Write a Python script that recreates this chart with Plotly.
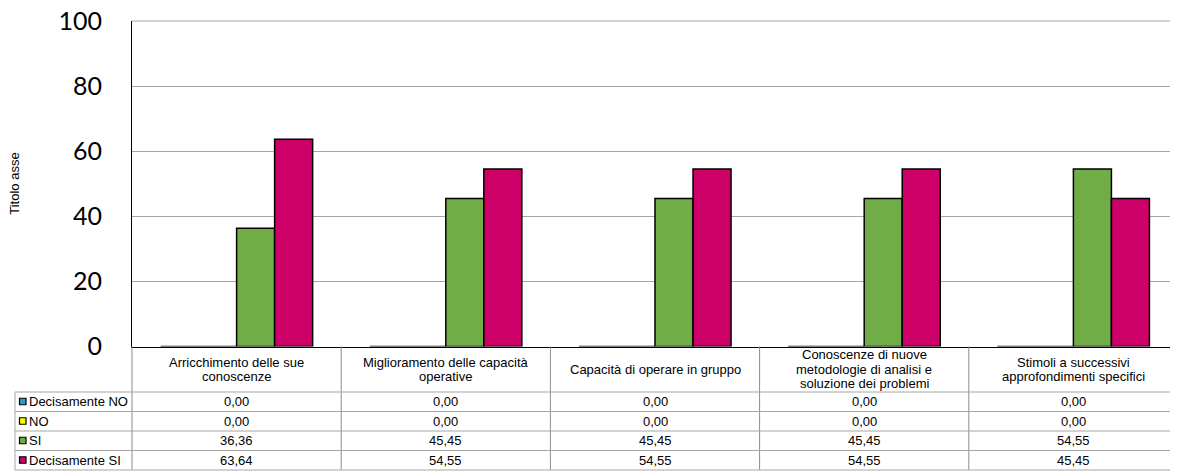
import plotly.graph_objects as go

categories = [
    "Arricchimento delle sue<br>conoscenze",
    "Miglioramento delle capacità<br>operative",
    "Capacità di operare in gruppo",
    "Conoscenze di nuove<br>metodologie di analisi e<br>soluzione dei problemi",
    "Stimoli a successivi<br>approfondimenti specifici",
]
series_names = ["Decisamente NO", "NO", "SI", "Decisamente SI"]
decisamente_no = [0.00, 0.00, 0.00, 0.00, 0.00]
no_vals = [0.00, 0.00, 0.00, 0.00, 0.00]
si_vals = [36.36, 45.45, 45.45, 45.45, 54.55]
decisamente_si = [63.64, 54.55, 54.55, 54.55, 45.45]
series_values = [decisamente_no, no_vals, si_vals, decisamente_si]
series_colors = ["#2E9BCB", "#FFFF00", "#70AD47", "#CC0066"]
y_ticks = [0, 20, 40, 60, 80, 100]

# page body has an 8px margin: work in window pixels and offset
OX, OY = 8, 8
W, H = 1178 - OX, 473 - OY
PL, PR = 132, 1178      # plot area x (window px)
PT, PB = 21, 346.5      # plot area y (window px)
ROW_TOP = 392
ROW_H = 19.5
LEG_L = 15

def px(x):
    return (x - OX) / W

def py(y):
    return 1 - (y - OY) / H

fig = go.Figure()
for name, vals, col in zip(series_names, series_values, series_colors):
    fig.add_trace(go.Bar(
        x=categories, y=vals, name=name,
        marker=dict(color=col, line=dict(color="#000000", width=1.5)),
        showlegend=False,
    ))

ncat = len(categories)
colw = (PR - PL) / ncat
shapes = []
annotations = []

def line(x0, y0, x1, y1, color, width=1, layer="above"):
    shapes.append(dict(type="line", xref="paper", yref="paper", layer=layer,
                       x0=px(x0), y0=py(y0), x1=px(x1), y1=py(y1),
                       line=dict(color=color, width=width)))

# top gridline (at 100)
line(PL, PT, PR, PT, "#A6A6A6", layer="below")
# header row + table verticals
for i in range(ncat + 1):
    xx = PL + i * colw
    if xx < 1177.5:
        line(xx, PB, xx, ROW_TOP + 4 * ROW_H, "#8C8C8C")
# table horizontals
for r in range(5):
    yy = ROW_TOP + r * ROW_H
    line(LEG_L, yy, PR, yy, "#A6A6A6")
line(LEG_L, ROW_TOP, LEG_L, ROW_TOP + 4 * ROW_H, "#A6A6A6")

TFONT = dict(family="Liberation Sans, Arial", size=13, color="#000000")

# header labels
for i, cat in enumerate(categories):
    lines_ = cat.split("<br>")
    n = len(lines_)
    cy = (PB + ROW_TOP) / 2
    lh = 14.5
    for k, t in enumerate(lines_):
        yy = cy + (k - (n - 1) / 2) * lh
        annotations.append(dict(xref="paper", yref="paper", x=px(PL + (i + 0.5) * colw),
                                y=py(yy), text=t, showarrow=False, font=TFONT,
                                xanchor="center", yanchor="middle"))

# rows: legend key, name, values
for r, (name, vals, col) in enumerate(zip(series_names, series_values, series_colors)):
    cy = ROW_TOP + (r + 0.5) * ROW_H
    shapes.append(dict(type="rect", xref="paper", yref="paper",
                       x0=px(19.5), x1=px(26), y0=py(cy - 3.5), y1=py(cy + 3),
                       fillcolor=col, line=dict(color="#000000", width=1.2)))
    annotations.append(dict(xref="paper", yref="paper", x=px(26.5), y=py(cy), text=name,
                            showarrow=False, font=TFONT, xanchor="left", yanchor="middle"))
    for i, v in enumerate(vals):
        annotations.append(dict(xref="paper", yref="paper", x=px(PL + (i + 0.5) * colw),
                                y=py(cy), text=f"{v:.2f}".replace(".", ","),
                                showarrow=False, font=TFONT, xanchor="center", yanchor="middle"))

# axis title
annotations.append(dict(xref="paper", yref="paper", x=px(15), y=py((PT + PB) / 2),
                        text="Titolo asse", textangle=-90, showarrow=False,
                        font=dict(family="Liberation Sans, Arial", size=13, color="#000000"),
                        xanchor="center", yanchor="middle"))

fig.update_layout(
    width=W, height=H,
    margin=dict(l=0, r=0, t=0, b=0, pad=0, autoexpand=False),
    paper_bgcolor="white", plot_bgcolor="white",
    barmode="group", bargap=0.273, bargroupgap=0,
    shapes=shapes, annotations=annotations,
    xaxis=dict(domain=[px(PL), min(1.0, px(PR))], showticklabels=False, showgrid=False,
               showline=True, linecolor="#000000", linewidth=1.2, ticks="", zeroline=False,
               automargin=False, fixedrange=True),
    yaxis=dict(domain=[py(PB), py(PT)], range=[0, 100], tickvals=y_ticks,
               showgrid=True, gridcolor="#A6A6A6", gridwidth=1,
               showline=True, linecolor="#000000", linewidth=1.2, zeroline=False,
               tickfont=dict(family="Lato", size=25, color="#000000"),
               ticks="", ticklabelstandoff=24, ticklabeloverflow="allow",
               automargin=False, fixedrange=True),
)

fig.write_html("out.html")
